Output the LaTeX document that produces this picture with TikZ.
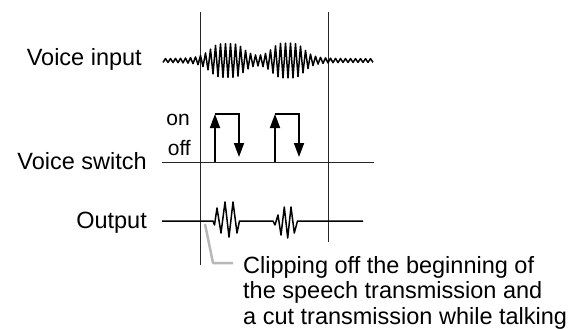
\documentclass[tikz,border=0pt]{standalone}
\usepackage{fontspec}
\setmainfont{Liberation Sans}
\usetikzlibrary{arrows.meta}
\begin{document}
\begin{tikzpicture}[x=1pt,y=-1pt,
  lab/.style={font=\fontsize{23.5}{25.5}\selectfont, inner sep=0pt, anchor=base east},
  smalllab/.style={font=\fontsize{21}{23}\selectfont, inner sep=0pt, anchor=base east},
  note/.style={font=\fontsize{23.5}{25.5}\selectfont, inner sep=0pt, anchor=base west},
  axis/.style={line width=1pt, black!85},
  sig/.style={line width=1.5pt, line join=round},
  sw/.style={line width=1.8pt, -{Triangle[length=14pt,width=10pt]}},
  callout/.style={line width=2.5pt, black!28, line join=round},
  declare function={q(\u)=\u*\u*\u*\u; A(\t)=1.8+15/(1+q((\t-227)/19))+15.5/(1+q((\t-288)/18));}
]
\useasboundingbox (0,0) rectangle (586,329);

% labels
\node[lab] (vin) at (142,66) {Voice input};
\node[lab] (vsw) at (147,169) {Voice switch};
\node[lab] (out) at (147,228) {Output};
\node[smalllab] (on) at (190,125) {on};
\node[smalllab] (off) at (191,155) {off};

% vertical time markers
\coordinate (l1t) at (200,12); \coordinate (l1b) at (200,265);
\coordinate (l2t) at (328,12); \coordinate (l2b) at (328,242);
\draw[axis] (l1t) -- (l1b);
\draw[axis] (l2t) -- (l2b);

% voice input waveform
\draw[sig] plot[domain=0:84, samples=85, variable=\k]
  ({163+2.5*\k},{60.5+cos(180*\k)*A(163+2.5*\k)});

% voice switch
\coordinate (s0) at (162,162); \coordinate (s1) at (374,162);
\draw[axis] (s0) -- (s1);
\coordinate (p1b) at (215,162); \coordinate (p1t) at (215,114);
\coordinate (p1r) at (239,114); \coordinate (p1e) at (239,157);
\coordinate (p2b) at (275,162); \coordinate (p2t) at (275,114);
\coordinate (p2r) at (299,114); \coordinate (p2e) at (299,157);
\draw[sw] (p1b) -- (p1t);
\draw[sw] (p1t) -- (p1r) -- (p1e);
\draw[sw] (p2b) -- (p2t);
\draw[sw] (p2t) -- (p2r) -- (p2e);

% output
\coordinate (o0) at (162,221); \coordinate (o1) at (363,221);
\draw[sig] (o0) -- (213,221) -- (214.5,225) -- (217,208) -- (221,233) -- (225,202)
  -- (229,237) -- (233,202) -- (237,233) -- (239.5,221)
  -- (273,221) -- (275,225) -- (278,215) -- (281,235) -- (284.3,207)
  -- (287.7,238) -- (291,207) -- (294.3,233) -- (297.5,221) -- (o1);

% callout
\coordinate (c0) at (205,224); \coordinate (c1) at (213,263); \coordinate (c2) at (233,263);
\draw[callout] (c0) -- (c1) -- (c2);
\node[note] (n1) at (243,273) {Clipping off the beginning of};
\node[note] (n2) at (243,298.5) {the speech transmission and};
\node[note] (n3) at (243,324) {a cut transmission while talking};
\end{tikzpicture}
\end{document}
